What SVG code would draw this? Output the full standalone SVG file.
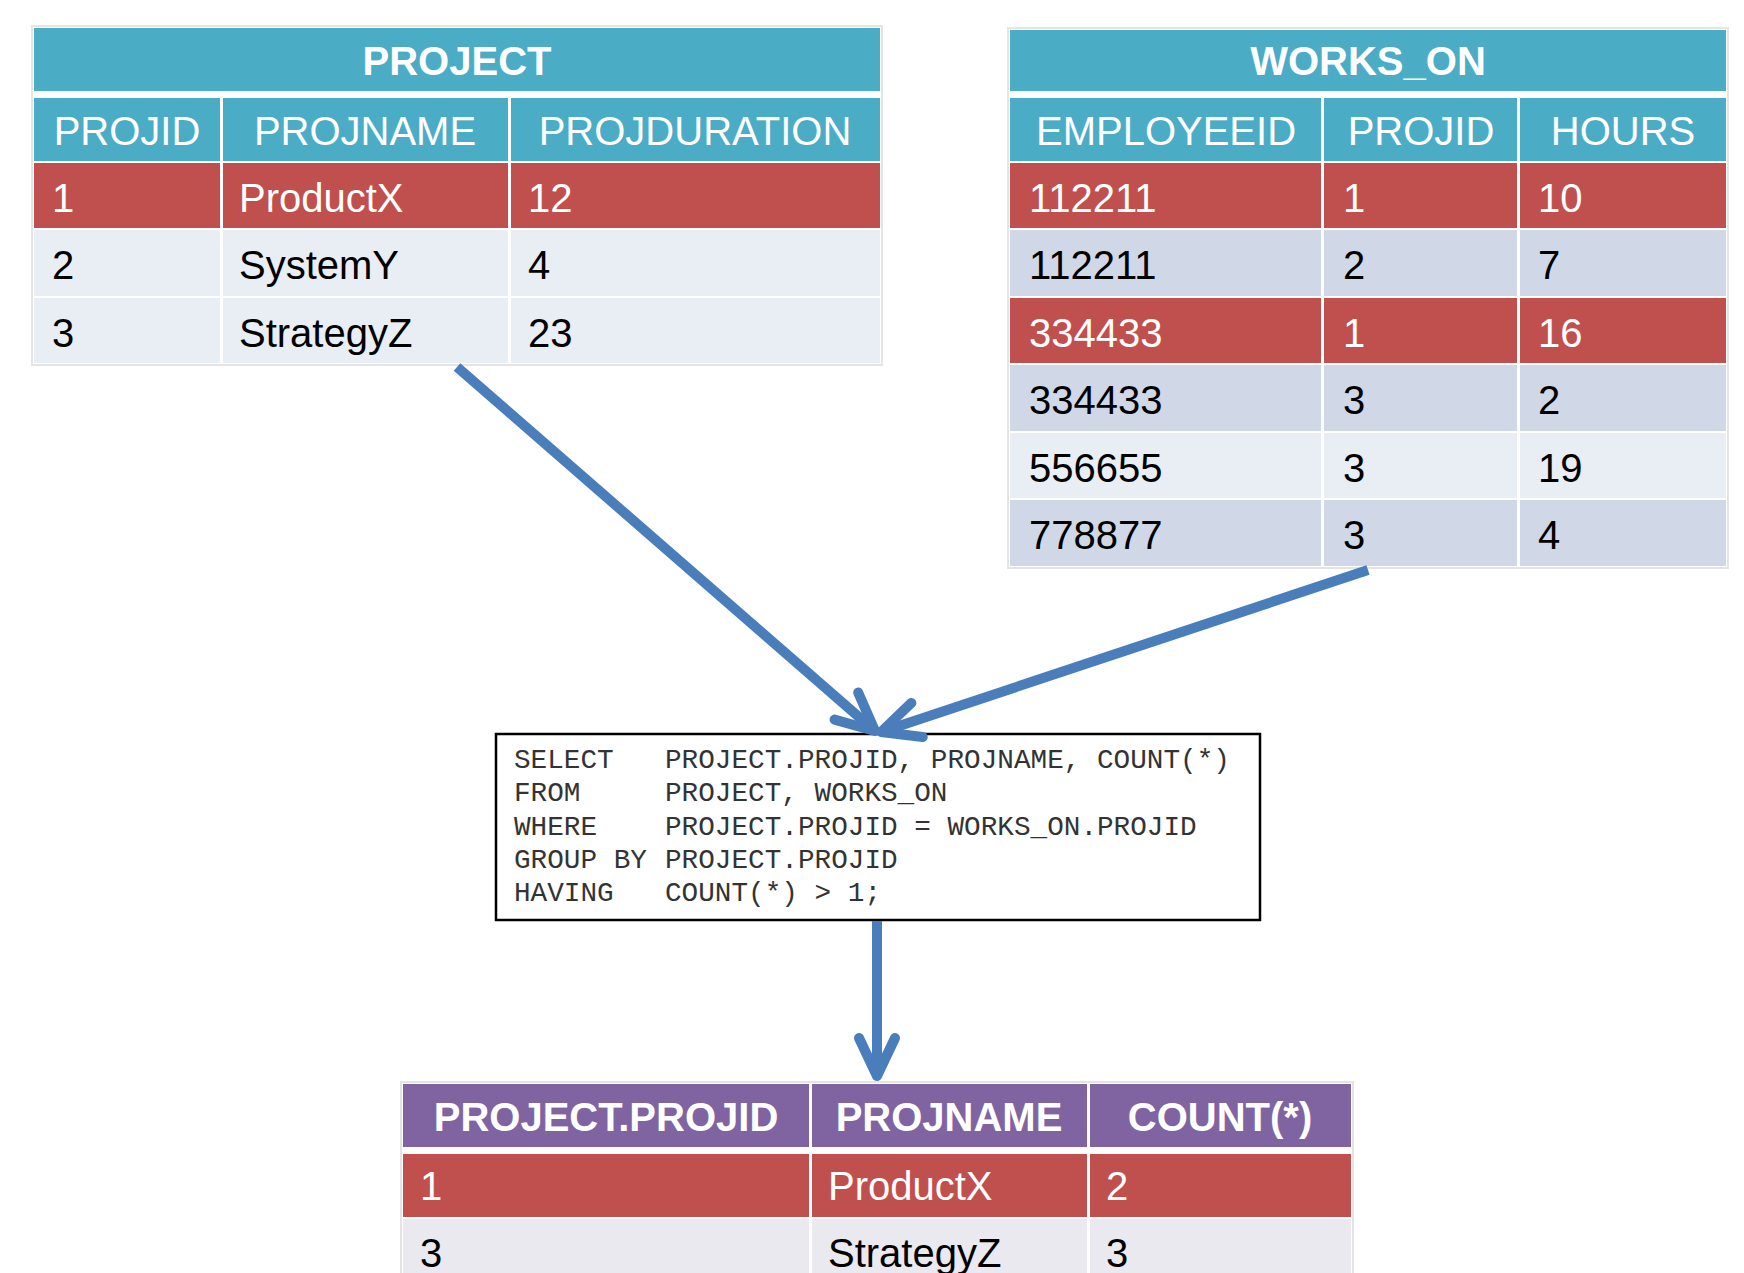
<svg xmlns="http://www.w3.org/2000/svg" width="1744" height="1273" viewBox="0 0 1744 1273">
<defs>
<style>
.frame{fill:#ffffff;stroke:#e4e4e4;stroke-width:2}
.teal{fill:#4BACC6}
.red{fill:#C0504D}
.l1{fill:#E9EDF4}
.l2{fill:#D0D8E8}
.purple{fill:#8064A2}
.l3{fill:#EAE9EF}
.t{font-family:"Liberation Sans",Arial,sans-serif;font-size:40px}
.b{font-weight:bold}
.w{fill:#ffffff}
.k{fill:#000000}
.c{text-anchor:middle}
.sql{font-family:"Courier New","Liberation Mono",monospace;font-size:27.7px;fill:#333333}
.arrow{stroke:#4A7EBB;stroke-width:10;fill:none;marker-end:url(#head)}
</style>
<marker id="head" markerUnits="userSpaceOnUse" orient="auto" refX="0" refY="0" markerWidth="100" markerHeight="100" viewBox="-60 -50 100 100" overflow="visible">
<path d="M -38 -18 L 0 0 L -38 18" fill="none" stroke="#4A7EBB" stroke-width="10" stroke-linecap="round" stroke-linejoin="round"/>
</marker>
</defs>
<rect width="1744" height="1273" fill="#ffffff"/>

<g id="project-table">
<rect class="frame" x="32" y="26" width="850" height="339"/>
<rect class="teal" x="34" y="28" width="846" height="63"/>
<text class="t b w c" x="457" y="75">PROJECT</text>
<rect class="teal" x="34" y="98" width="186" height="63"/>
<rect class="teal" x="223" y="98" width="285" height="63"/>
<rect class="teal" x="511" y="98" width="369" height="63"/>
<text class="t w c" x="127" y="145">PROJID</text>
<text class="t w c" x="365" y="145">PROJNAME</text>
<text class="t w c" x="695" y="145">PROJDURATION</text>
<rect class="red" x="34" y="163" width="186" height="65"/>
<rect class="red" x="223" y="163" width="285" height="65"/>
<rect class="red" x="511" y="163" width="369" height="65"/>
<text class="t w" x="52" y="212">1</text>
<text class="t w" x="239" y="212">ProductX</text>
<text class="t w" x="528" y="212">12</text>
<rect class="l1" x="34" y="230" width="186" height="66"/>
<rect class="l1" x="223" y="230" width="285" height="66"/>
<rect class="l1" x="511" y="230" width="369" height="66"/>
<text class="t k" x="52" y="279">2</text>
<text class="t k" x="239" y="279">SystemY</text>
<text class="t k" x="528" y="279">4</text>
<rect class="l1" x="34" y="298" width="186" height="65"/>
<rect class="l1" x="223" y="298" width="285" height="65"/>
<rect class="l1" x="511" y="298" width="369" height="65"/>
<text class="t k" x="52" y="347">3</text>
<text class="t k" x="239" y="347">StrategyZ</text>
<text class="t k" x="528" y="347">23</text>
</g>

<g id="works-on-table">
<rect class="frame" x="1008" y="28" width="720" height="540"/>
<rect class="teal" x="1010" y="30" width="716" height="61"/>
<text class="t b w c" x="1368" y="75">WORKS_ON</text>
<rect class="teal" x="1010" y="98" width="311" height="63"/>
<rect class="teal" x="1324" y="98" width="193" height="63"/>
<rect class="teal" x="1520" y="98" width="206" height="63"/>
<text class="t w c" x="1166" y="145">EMPLOYEEID</text>
<text class="t w c" x="1421" y="145">PROJID</text>
<text class="t w c" x="1623" y="145">HOURS</text>
<rect class="red" x="1010" y="163" width="311" height="65"/>
<rect class="red" x="1324" y="163" width="193" height="65"/>
<rect class="red" x="1520" y="163" width="206" height="65"/>
<text class="t w" x="1029" y="212">112211</text>
<text class="t w" x="1343" y="212">1</text>
<text class="t w" x="1538" y="212">10</text>
<rect class="l2" x="1010" y="230" width="311" height="66"/>
<rect class="l2" x="1324" y="230" width="193" height="66"/>
<rect class="l2" x="1520" y="230" width="206" height="66"/>
<text class="t k" x="1029" y="279">112211</text>
<text class="t k" x="1343" y="279">2</text>
<text class="t k" x="1538" y="279">7</text>
<rect class="red" x="1010" y="298" width="311" height="65"/>
<rect class="red" x="1324" y="298" width="193" height="65"/>
<rect class="red" x="1520" y="298" width="206" height="65"/>
<text class="t w" x="1029" y="347">334433</text>
<text class="t w" x="1343" y="347">1</text>
<text class="t w" x="1538" y="347">16</text>
<rect class="l2" x="1010" y="365" width="311" height="66"/>
<rect class="l2" x="1324" y="365" width="193" height="66"/>
<rect class="l2" x="1520" y="365" width="206" height="66"/>
<text class="t k" x="1029" y="414">334433</text>
<text class="t k" x="1343" y="414">3</text>
<text class="t k" x="1538" y="414">2</text>
<rect class="l1" x="1010" y="433" width="311" height="65"/>
<rect class="l1" x="1324" y="433" width="193" height="65"/>
<rect class="l1" x="1520" y="433" width="206" height="65"/>
<text class="t k" x="1029" y="482">556655</text>
<text class="t k" x="1343" y="482">3</text>
<text class="t k" x="1538" y="482">19</text>
<rect class="l2" x="1010" y="500" width="311" height="66"/>
<rect class="l2" x="1324" y="500" width="193" height="66"/>
<rect class="l2" x="1520" y="500" width="206" height="66"/>
<text class="t k" x="1029" y="549">778877</text>
<text class="t k" x="1343" y="549">3</text>
<text class="t k" x="1538" y="549">4</text>
</g>

<g id="sql-query">
<rect x="496" y="734" width="764" height="186" fill="#ffffff" stroke="#000000" stroke-width="2.5"/>
<text class="sql" x="514" y="768">SELECT</text>
<text class="sql" x="665" y="768">PROJECT.PROJID, PROJNAME, COUNT(*)</text>
<text class="sql" x="514" y="801">FROM</text>
<text class="sql" x="665" y="801">PROJECT, WORKS_ON</text>
<text class="sql" x="514" y="835">WHERE</text>
<text class="sql" x="665" y="835">PROJECT.PROJID = WORKS_ON.PROJID</text>
<text class="sql" x="514" y="868">GROUP BY</text>
<text class="sql" x="665" y="868">PROJECT.PROJID</text>
<text class="sql" x="514" y="901">HAVING</text>
<text class="sql" x="665" y="901">COUNT(*) &gt; 1;</text>
</g>

<g id="result-table">
<rect class="frame" x="401" y="1082" width="952" height="200"/>
<rect class="purple" x="403" y="1084" width="406" height="63"/>
<rect class="purple" x="812" y="1084" width="275" height="63"/>
<rect class="purple" x="1090" y="1084" width="261" height="63"/>
<text class="t b w c" x="606" y="1131">PROJECT.PROJID</text>
<text class="t b w c" x="949" y="1131">PROJNAME</text>
<text class="t b w c" x="1220" y="1131">COUNT(*)</text>
<rect class="red" x="403" y="1154" width="406" height="63"/>
<rect class="red" x="812" y="1154" width="275" height="63"/>
<rect class="red" x="1090" y="1154" width="261" height="63"/>
<text class="t w" x="420" y="1200">1</text>
<text class="t w" x="828" y="1200">ProductX</text>
<text class="t w" x="1106" y="1200">2</text>
<rect class="l3" x="403" y="1219" width="406" height="66"/>
<rect class="l3" x="812" y="1219" width="275" height="66"/>
<rect class="l3" x="1090" y="1219" width="261" height="66"/>
<text class="t k" x="420" y="1267">3</text>
<text class="t k" x="828" y="1267">StrategyZ</text>
<text class="t k" x="1106" y="1267">3</text>
</g>

<g id="connectors">
<line class="arrow" x1="457" y1="367" x2="875" y2="731"/>
<line class="arrow" x1="1368" y1="570" x2="881" y2="732"/>
<line class="arrow" x1="877" y1="921" x2="877" y2="1076"/>
</g>
</svg>
